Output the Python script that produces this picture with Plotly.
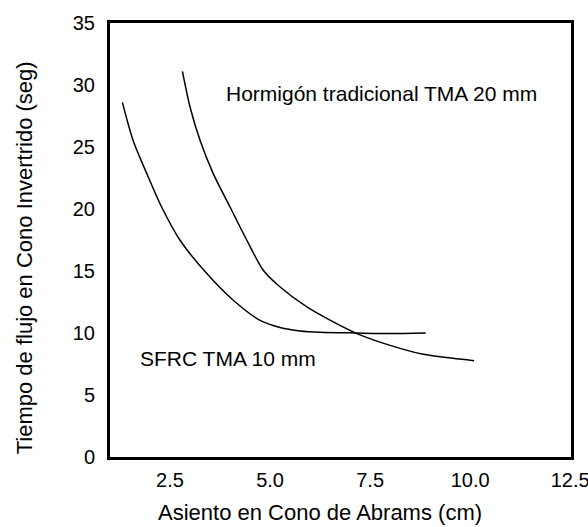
import plotly.graph_objects as go

# SFRC TMA 10 mm curve
sfrc_x = [1.31, 1.58, 1.92, 2.29, 2.75, 3.42, 4.08, 4.75, 5.25, 5.75, 6.25, 7.17, 8.0, 8.89]
sfrc_y = [28.6, 25.5, 22.85, 20.16, 17.48, 14.79, 12.64, 11.02, 10.45, 10.17, 10.06, 10.0, 9.96, 10.0]

# Hormigón tradicional TMA 20 mm curve
horm_x = [2.81, 3.0, 3.25, 3.58, 4.0, 4.42, 4.83, 5.2, 5.92, 6.58, 7.17, 8.0, 8.83, 10.1]
horm_y = [31.1, 28.23, 25.54, 22.85, 20.16, 17.48, 15.06, 13.85, 12.1, 10.89, 9.95, 9.0, 8.28, 7.77]

x_ticks = [2.5, 5.0, 7.5, 10.0, 12.5]
x_tick_labels = ["2.5", "5.0", "7.5", "10.0", "12.5"]
y_ticks = [0, 5, 10, 15, 20, 25, 30, 35]

FONT = "Liberation Sans, Arial, sans-serif"

fig = go.Figure()
fig.add_trace(go.Scatter(x=sfrc_x, y=sfrc_y, mode="lines",
                         line=dict(color="black", width=1.5, shape="spline", smoothing=0.8),
                         name="SFRC TMA 10 mm", showlegend=False))
fig.add_trace(go.Scatter(x=horm_x, y=horm_y, mode="lines",
                         line=dict(color="black", width=1.5, shape="spline", smoothing=0.8),
                         name="Hormigón tradicional TMA 20 mm", showlegend=False))

fig.update_layout(
    width=588, height=527, autosize=False,
    margin=dict(l=110, r=17, t=23, b=70, autoexpand=False),
    paper_bgcolor="white", plot_bgcolor="white",
    font=dict(family=FONT, color="black", size=20),
    xaxis=dict(range=[1.0, 12.52], tickvals=x_ticks, ticktext=x_tick_labels,
               showgrid=False, zeroline=False, showline=True, linecolor="black",
               linewidth=3, mirror=True, ticks="outside", ticklen=3, automargin=False,
               tickcolor="rgba(0,0,0,0)", ticklabeloverflow="allow",
               tickfont=dict(size=20, family=FONT)),
    yaxis=dict(range=[0, 35], tickvals=y_ticks,
               showgrid=False, zeroline=False, showline=True, linecolor="black",
               linewidth=3, mirror=True, ticks="outside", ticklen=8, automargin=False,
               tickcolor="rgba(0,0,0,0)",
               tickfont=dict(size=20, family=FONT)),
    annotations=[
        dict(text="Hormigón tradicional TMA 20 mm", x=7.775, y=29.33, xref="x", yref="y",
             xanchor="center", yanchor="middle",
             showarrow=False, font=dict(size=21, family=FONT)),
        dict(text="SFRC TMA 10 mm", x=3.94, y=7.96, xref="x", yref="y",
             xanchor="center", yanchor="middle",
             showarrow=False, font=dict(size=21, family=FONT)),
        dict(text="Asiento en Cono de Abrams (cm)", x=0.4555, y=-0.1274, xref="paper", yref="paper",
             xanchor="center", yanchor="middle",
             showarrow=False, font=dict(size=22, family=FONT)),
        dict(text="Tiempo de flujo en Cono Invertrido (seg)", x=-0.1866, y=0.46, xref="paper", yref="paper",
             xanchor="center", yanchor="middle",
             showarrow=False, textangle=-90, font=dict(size=22, family=FONT)),
    ],
)

fig.write_html("out.html", config={"displayModeBar": False},
               post_script="document.body.style.margin='0';")
